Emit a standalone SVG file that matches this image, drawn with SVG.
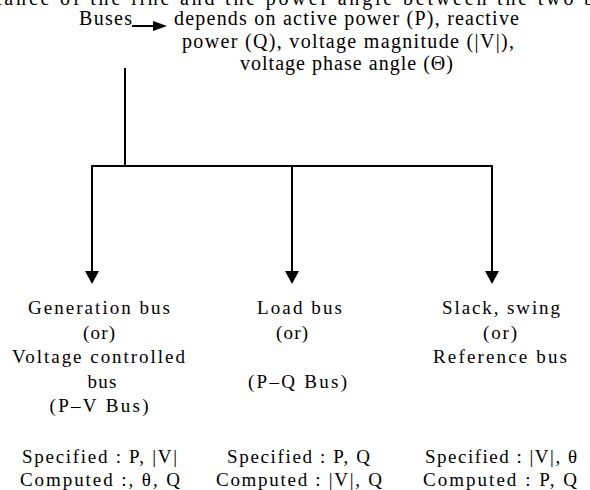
<svg xmlns="http://www.w3.org/2000/svg" width="590" height="490" viewBox="0 0 590 490" font-family="Liberation Serif, Times New Roman, serif">
<style>
.t{font-size:20px;}
.b{font-size:19px;text-anchor:middle;}
.ln{stroke:#000;stroke-width:2;fill:none;}
</style>
<rect width="590" height="490" fill="#fff"/>
<text class="t" x="-4" y="5" textLength="598" lengthAdjust="spacing">tance of the line and the power angle between the two b</text>
<g id="root">
<text class="t" x="79" y="25" textLength="53" lengthAdjust="spacing">Buses</text>
<text class="t" x="174" y="25" textLength="345" lengthAdjust="spacing">depends on active power (P), reactive</text>
<text class="t" x="182" y="48" textLength="332" lengthAdjust="spacing">power (Q), voltage magnitude (|V|),</text>
<text class="t" x="240" y="70" textLength="213" lengthAdjust="spacing">voltage phase angle (Θ)</text>
</g>
<g id="connectors">
<line class="ln" x1="132" y1="26" x2="154" y2="26"/>
<path d="M153,21 L167,26 L153,31 Z" fill="#000"/>
<line class="ln" x1="125" y1="68" x2="125" y2="166"/>
<polyline class="ln" points="92,272 92,166 492,166 492,272"/>
<line class="ln" x1="292" y1="166" x2="292" y2="272"/>
<path d="M85,271 L99,271 L92,284 Z" fill="#000"/>
<path d="M285,271 L299,271 L292,284 Z" fill="#000"/>
<path d="M485,271 L499,271 L492,284 Z" fill="#000"/>
</g>
<g id="generation-bus">
<text class="b" x="99" y="314" textLength="142" lengthAdjust="spacing">Generation bus</text>
<text class="b" x="99" y="339" textLength="32" lengthAdjust="spacing">(or)</text>
<text class="b" x="98.5" y="363" textLength="173" lengthAdjust="spacing">Voltage controlled</text>
<text class="b" x="102" y="388" textLength="29" lengthAdjust="spacing">bus</text>
<text class="b" x="99" y="412" textLength="99" lengthAdjust="spacing">(P–V Bus)</text>
<text class="b" x="99.5" y="463" textLength="155" lengthAdjust="spacing">Specified : P, |V|</text>
<text class="b" x="100" y="486" textLength="160" lengthAdjust="spacing">Computed :, θ, Q</text>
</g>
<g id="load-bus">
<text class="b" x="299.5" y="314" textLength="85" lengthAdjust="spacing">Load bus</text>
<text class="b" x="292" y="339" textLength="32" lengthAdjust="spacing">(or)</text>
<text class="b" x="297.5" y="388" textLength="99" lengthAdjust="spacing">(P–Q Bus)</text>
<text class="b" x="298.5" y="463" textLength="143" lengthAdjust="spacing">Specified : P, Q</text>
<text class="b" x="299" y="486" textLength="166" lengthAdjust="spacing">Computed : |V|, Q</text>
</g>
<g id="slack-bus">
<text class="b" x="501" y="314" textLength="118" lengthAdjust="spacing">Slack, swing</text>
<text class="b" x="500" y="339" textLength="34" lengthAdjust="spacing">(or)</text>
<text class="b" x="500" y="363" textLength="134" lengthAdjust="spacing">Reference bus</text>
<text class="b" x="501" y="463" textLength="152" lengthAdjust="spacing">Specified : |V|, θ</text>
<text class="b" x="500" y="486" textLength="154" lengthAdjust="spacing">Computed : P, Q</text>
</g>
</svg>
